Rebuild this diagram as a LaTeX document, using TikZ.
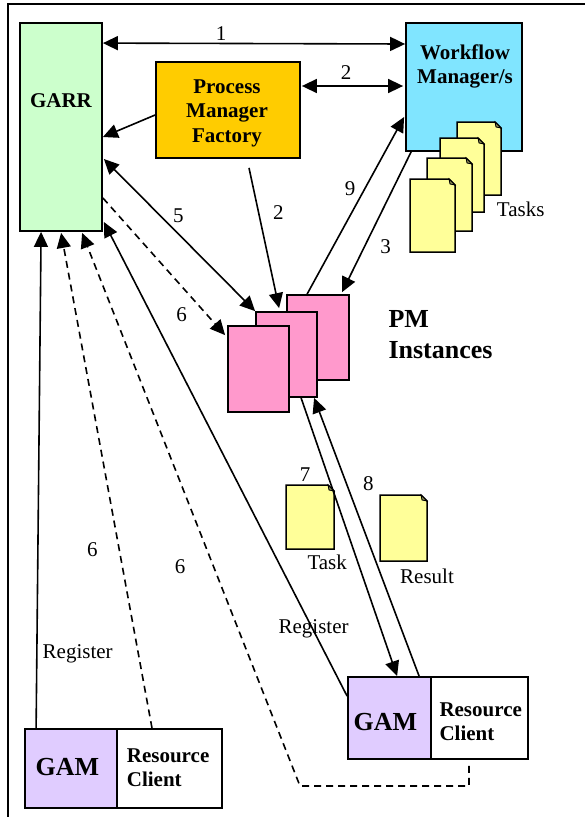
\documentclass[tikz,border=0pt]{standalone}
\usepackage{fontspec}
\setmainfont{Liberation Serif}
\usetikzlibrary{arrows.meta}

\definecolor{garrgreen}{HTML}{CCFFCC}
\definecolor{pmfgold}{HTML}{FFCC00}
\definecolor{wmcyan}{HTML}{80E5FF}
\definecolor{pmpink}{HTML}{FF99CC}
\definecolor{docyellow}{HTML}{FFFF99}
\definecolor{gamlilac}{HTML}{E0CCFF}

% a sheet of paper with a folded top-right corner: x1 y1 x2 y2
\newcommand\docsheet[4]{%
  \filldraw[fill=docyellow, line width=1.5pt, line join=miter]
    (#1,#2) -- ({#3-6},#2) -- (#3,{#2+6}) -- (#3,#4) -- (#1,#4) -- cycle;
  \filldraw[fill=docyellow!55!black, line width=0.8pt]
    ({#3-6},#2) -- ({#3-5},{#2+5}) -- (#3,{#2+6}) -- cycle;
}

\begin{document}
\begin{tikzpicture}[x=1pt,y=-1pt,
  box/.style={draw, line width=1.8pt, inner sep=0pt, rectangle},
  lbl/.style={inner sep=0pt, font=\fontsize{21}{24.5}\selectfont},
  blbl/.style={inner sep=0pt, font=\fontsize{21}{24.5}\selectfont\bfseries},
  biglbl/.style={inner sep=0pt, font=\fontsize{26}{31}\selectfont\bfseries},
  conn/.style={line width=1.6pt, -{Triangle[length=15pt,width=14pt]}},
  biconn/.style={line width=1.6pt, {Triangle[length=15pt,width=14pt]}-{Triangle[length=15pt,width=14pt]}},
  dconn/.style={conn, dash pattern=on 7pt off 5pt},
]
\useasboundingbox (0,0) rectangle (584,817);
\fill[white] (0,0) rectangle (584,817);

% outer frame
\draw[line width=2pt] (8,830) -- (8,4) -- (600,4);

% main components
\node[box, fill=garrgreen, minimum width=82pt, minimum height=208pt] (garr) at (61,127) {};
\node[blbl, anchor=base] (garrtext) at (61,107) {GARR};

\node[box, fill=pmfgold, minimum width=144pt, minimum height=96pt] (pmf) at (228,110) {};
\node[blbl, align=center, anchor=north] (pmftext) at (227,79.3) {Process\\Manager\\Factory};

\node[box, fill=wmcyan, minimum width=116pt, minimum height=128pt] (wm) at (464,87) {};
\node[blbl, align=center, anchor=north] (wmtext) at (465,44.6) {Workflow\\[-0.2pt]Manager/s};

% task sheets held by the workflow manager
\docsheet{457}{122}{501}{195}
\docsheet{440}{138}{484}{212}
\docsheet{427}{158}{472}{231}
\docsheet{410}{179}{455}{252}
\node[lbl, anchor=base west] (taskslbl) at (496.7,216) {Tasks};

% process manager instances
\node[box, fill=pmpink, minimum width=62pt, minimum height=85pt] (pmB) at (318,337.5) {};
\node[box, fill=pmpink, minimum width=61pt, minimum height=85pt] (pmM) at (286.5,354.5) {};
\node[box, fill=pmpink, minimum width=61pt, minimum height=86pt] (pmF) at (258.5,369) {};
\node[biglbl, align=left, anchor=north west] (pmtext) at (388.3,310.2) {PM\\Instances};

% a task going out, a result coming back
\docsheet{286}{485}{334}{549}
\node[lbl, anchor=base west] (tasklbl) at (307.3,569) {Task};
\docsheet{380}{495}{427}{561}
\node[lbl, anchor=base west] (resultlbl) at (400,583.3) {Result};

% resources
\node[box, fill=gamlilac, minimum width=83pt, minimum height=82pt] (gam2) at (389.5,718) {};
\node[box, fill=white, minimum width=97pt, minimum height=82pt] (rc2) at (479.5,718) {};
\node[biglbl, anchor=base] (gam2text) at (385.3,730) {GAM};
\node[blbl, align=left, anchor=north west] (rc2text) at (439.3,702.8) {Resource\\[-0.5pt]Client};

\node[box, fill=gamlilac, minimum width=92pt, minimum height=79pt] (gam1) at (71,768.5) {};
\node[box, fill=white, minimum width=105pt, minimum height=79pt] (rc1) at (169.5,768.5) {};
\node[biglbl, anchor=base] (gam1text) at (67.3,775.7) {GAM};
\node[blbl, align=left, anchor=north west] (rc1text) at (126.7,748.8) {Resource\\[-0.5pt]Client};

% connectors
\draw[biconn] ([yshift=-21pt]garr.north east) -- ([yshift=43pt]wm.west);
\draw[conn] ([yshift=-5pt]pmf.west) -- ([yshift=-10pt]garr.east);
\draw[biconn] ([xshift=1pt,yshift=24pt]pmf.east) -- ([xshift=-2pt,yshift=1pt]wm.west);
\draw[biconn] ([xshift=1pt,yshift=-32pt]garr.east) -- (pmM.north west);
\draw[dconn] ([yshift=-71pt]garr.east) -- ([xshift=-2pt,yshift=-10pt]pmF.north west);
\draw[conn] ([xshift=21pt,yshift=-9pt]pmf.south) -- ([xshift=24pt,yshift=3pt]pmM.north west);
\draw[conn] ([xshift=21pt]pmB.north west) -- ([xshift=-1pt,yshift=-30pt]wm.west);
\draw[conn] ([xshift=6pt]wm.south west) -- ([xshift=56pt,yshift=2pt]pmB.north west);
\draw[conn] ([xshift=46pt]pmM.south west) -- ([xshift=50pt]gam2.north west);
\draw[conn] ([xshift=72pt]gam2.north west) -- ([xshift=59pt]pmM.south west);
\draw[conn] ([xshift=12pt]gam1.north west) -- ([xshift=22pt]garr.south west);
\draw[dconn] ([xshift=-17.5pt]rc1.north) -- ([xshift=42pt,yshift=-1pt]garr.south west);
\coordinate (bend) at (300,786);
\draw[dconn] ([xshift=-10.5pt,yshift=-6pt]rc2.south) |- (bend) -- ([xshift=63pt,yshift=-1pt]garr.south west);
\draw[conn] ([yshift=-20pt]gam2.north west) -- ([xshift=1pt,yshift=-95pt]garr.east);

% connector labels
\node[lbl, anchor=base] (n1) at (221,40.5) {1};
\node[lbl, anchor=base] (n2a) at (346,79) {2};
\node[lbl, anchor=base] (n5) at (178.3,222.7) {5};
\node[lbl, anchor=base] (n2b) at (278.3,219.3) {2};
\node[lbl, anchor=base] (n6a) at (181.7,321.7) {6};
\node[lbl, anchor=base] (n9) at (350,195.7) {9};
\node[lbl, anchor=base] (n3) at (385.7,253.3) {3};
\node[lbl, anchor=base] (n7) at (305,481.7) {7};
\node[lbl, anchor=base] (n8) at (368.3,490) {8};
\node[lbl, anchor=base] (n6b) at (92.3,556.7) {6};
\node[lbl, anchor=base] (n6c) at (180,573.3) {6};
\node[lbl, anchor=base west] (reg1) at (42.5,658.3) {Register};
\node[lbl, anchor=base west] (reg2) at (278.4,633.3) {Register};
\end{tikzpicture}
\end{document}
